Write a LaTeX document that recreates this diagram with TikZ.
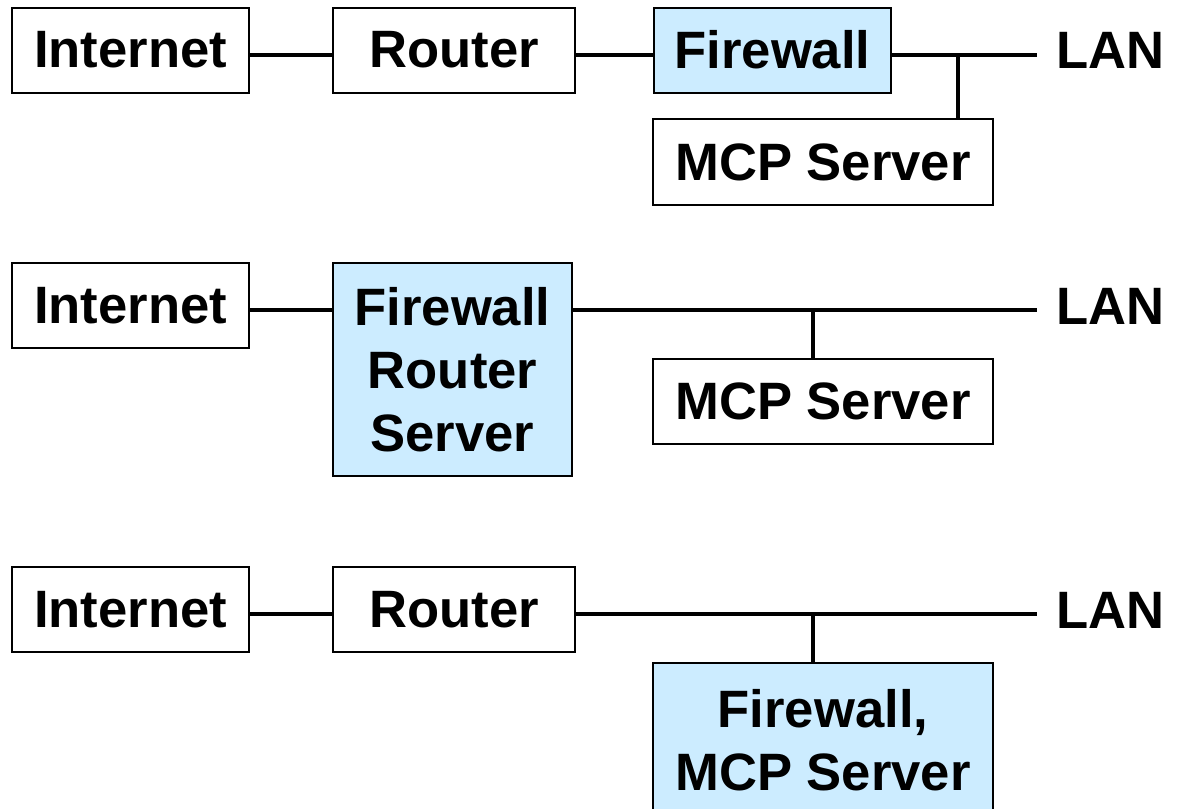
\documentclass[tikz,border=0pt]{standalone}
\usepackage{fontspec}
\setmainfont{Liberation Sans}
\definecolor{boxblue}{HTML}{CCECFF}
\begin{document}
\begin{tikzpicture}[x=0.5pt, y=-0.5pt,
  font=\fontsize{26.3}{31.5}\selectfont\bfseries,
  unit/.style={draw=black, line width=1pt, fill=white, inner sep=0pt,
    minimum height=42.5pt, align=center},
  unitblue/.style={unit, fill=boxblue},
  wire/.style={line width=2.3pt, line cap=butt},
  lanlabel/.style={anchor=west, inner sep=0pt}]
\useasboundingbox (0,0) rectangle (1179,809);

% ---------- first arrangement: separate router and firewall ----------
\coordinate (bus1) at (0,55);
\node[unit, minimum width=118.5pt] (inet1) at (130.5,50) {Internet};
\node[unit, minimum width=121pt] (rout1) at (454,50) {Router};
\node[unitblue, minimum width=118.5pt] (fw1) at (772.5,50) {Firewall};
\node[unit, minimum width=170pt, minimum height=43pt] (mcp1) at (823,162) {MCP Server};
\node[lanlabel] (lan1) at (1056,50.5) {LAN};
\coordinate (end1) at (1037,55);
\coordinate (tap1) at (958,55);
\draw[wire] (inet1.east |- bus1) -- (rout1.west |- bus1);
\draw[wire] (rout1.east |- bus1) -- (fw1.west |- bus1);
\draw[wire] (fw1.east |- bus1) -- (end1);
\draw[wire] (tap1) -- (tap1 |- mcp1.north);

% ---------- second arrangement: combined firewall/router/server ----------
\coordinate (bus2) at (0,310);
\node[unit, minimum width=118.5pt] (inet2) at (130.5,305.5) {Internet};
\node[unitblue, minimum width=119.5pt, minimum height=106.5pt] (frs2) at (452.5,369.5)
  {Firewall\\Router\\Server};
\node[unit, minimum width=170pt] (mcp2) at (823,401.5) {MCP Server};
\node[lanlabel] (lan2) at (1056,306) {LAN};
\coordinate (end2) at (1037,310);
\coordinate (tap2) at (813,310);
\draw[wire] (inet2.east |- bus2) -- (frs2.west |- bus2);
\draw[wire] (frs2.east |- bus2) -- (end2);
\draw[wire] (tap2) -- (tap2 |- mcp2.north);

% ---------- third arrangement: firewall on the MCP server ----------
\coordinate (bus3) at (0,614);
\node[unit, minimum width=118.5pt] (inet3) at (130.5,609.5) {Internet};
\node[unit, minimum width=121pt] (rout3) at (454,609.5) {Router};
\node[unitblue, minimum width=170pt, minimum height=77.5pt] (fm3) at (823,740.5)
  {Firewall,\\MCP Server};
\node[lanlabel] (lan3) at (1056,610) {LAN};
\coordinate (end3) at (1037,614);
\coordinate (tap3) at (813,614);
\draw[wire] (inet3.east |- bus3) -- (rout3.west |- bus3);
\draw[wire] (rout3.east |- bus3) -- (end3);
\draw[wire] (tap3) -- (tap3 |- fm3.north);
\end{tikzpicture}
\end{document}
